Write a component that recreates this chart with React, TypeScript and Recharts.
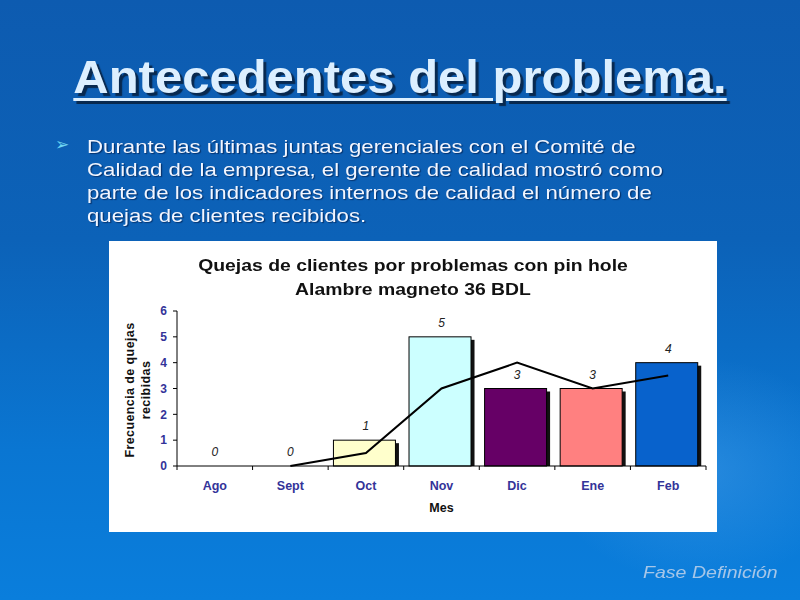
import React from "react";
import { ComposedChart, Bar, Line, XAxis, YAxis, Cell, LabelList } from "recharts";

const months = ["Ago", "Sept", "Oct", "Nov", "Dic", "Ene", "Feb"];
const quejas = [0, 0, 1, 5, 3, 3, 4];
const promedioMovil: (number | null)[] = [null, 0, 0.5, 3, 4, 3, 3.5];
const barColors = ["#FFFFCC", "#FFFFCC", "#FFFFCC", "#CCFFFF", "#660066", "#FF8080", "#0862CC"];
const yTicks = [0, 1, 2, 3, 4, 5, 6];

const chartTitle1 = "Quejas de clientes por problemas con pin hole";
const chartTitle2 = "Alambre magneto 36 BDL";
const slideTitle = "Antecedentes del problema.";
const bulletLines = [
  "Durante las últimas juntas gerenciales con el Comité de",
  "Calidad de la empresa, el gerente de calidad mostró como",
  "parte de los indicadores internos de calidad el número de",
  "quejas de clientes recibidos.",
];

const data = months.map((m, i) => ({ mes: m, quejas: quejas[i], promedio: promedioMovil[i] }));

const W = 608;
const H = 291;
const PLOT_LEFT = 68;
const PLOT_RIGHT = 597;
const PLOT_TOP = 70;
const PLOT_BOTTOM = 225;
const Y_AXIS_W = 40;
const X_AXIS_H = 40;
const BAND = (PLOT_RIGHT - PLOT_LEFT) / months.length;
const FONT = "Liberation Sans, Arial, sans-serif";

const ShadowBar = (props: any) => {
  const { x, y, width, height, fill } = props;
  if (!height || height <= 0) return null;
  const bx = x - 1.5;
  return (
    <g>
      <rect x={bx + 3.5} y={y + 3} width={width} height={height - 3} fill="#111" />
      <rect x={bx} y={y} width={width} height={height} fill={fill} stroke="#000" strokeWidth={1} />
    </g>
  );
};

const XTick = (props: any) => {
  const { x, payload, index } = props;
  const left = x - BAND / 2;
  const right = x + BAND / 2;
  return (
    <g>
      <line x1={left} x2={left} y1={PLOT_BOTTOM} y2={PLOT_BOTTOM + 4} stroke="#000" />
      {index === months.length - 1 && (
        <line x1={right} x2={right} y1={PLOT_BOTTOM} y2={PLOT_BOTTOM + 4} stroke="#000" />
      )}
      <text
        x={x}
        y={PLOT_BOTTOM + 24}
        textAnchor="middle"
        fontFamily={FONT}
        fontWeight="bold"
        fontSize={12.5}
        fill="#333399"
      >
        {payload.value}
      </text>
    </g>
  );
};

export default function App() {
  return (
    <div
      style={{
        position: "absolute",
        left: 0,
        top: 0,
        width: 800,
        height: 600,
        overflow: "hidden",
        background:
          "radial-gradient(ellipse 220px 160px at 700px 470px, rgba(90,170,240,0.35), rgba(90,170,240,0) 70%), linear-gradient(180deg, #0d5bb0 0%, #0c62b8 40%, #0a76d2 75%, #0a7edc 100%)",
        fontFamily: FONT,
      }}
    >
      <div
        style={{
          position: "absolute",
          left: 0,
          width: 800,
          top: 54,
          textAlign: "center",
          fontSize: 46,
          lineHeight: "46px",
          fontWeight: "bold",
          color: "#dcefff",
          textDecoration: "underline",
          textDecorationThickness: 3,
          textUnderlineOffset: 5,
          textShadow: "3px 3px 1px #08294f",
          transform: "scaleX(1.065)",
          transformOrigin: "400px 0",
        }}
      >
        {slideTitle}
      </div>

      <div
        style={{
          position: "absolute",
          left: 55,
          top: 134,
          fontSize: 17,
          color: "#6fd6f2",
          fontFamily: "DejaVu Sans, sans-serif",
        }}
      >
        ➢
      </div>
      <div
        style={{
          position: "absolute",
          left: 87,
          top: 135,
          fontSize: 19,
          lineHeight: "23px",
          color: "#f2f6ff",
          textShadow: "1px 1px 1px rgba(0,20,60,0.6)",
          whiteSpace: "nowrap",
          transform: "scaleX(1.17)",
          transformOrigin: "0 0",
        }}
      >
        {bulletLines.map((l, i) => (
          <div key={i}>{l}</div>
        ))}
      </div>

      <div
        style={{
          position: "absolute",
          left: 109,
          top: 241,
          width: W,
          height: H,
          background: "#ffffff",
        }}
      >
        <div
          style={{
            position: "absolute",
            left: 0,
            width: W,
            top: 13,
            textAlign: "center",
            fontSize: 17,
            lineHeight: "24px",
            fontWeight: "bold",
            color: "#111",
            transform: "scaleX(1.14)",
            transformOrigin: `${W / 2}px 0`,
          }}
        >
          <div>{chartTitle1}</div>
          <div>{chartTitle2}</div>
        </div>

        <div
          style={{
            position: "absolute",
            left: 29 - 80,
            top: 149 - 16,
            width: 160,
            height: 32,
            transform: "rotate(-90deg)",
            textAlign: "center",
            fontSize: 12.5,
            lineHeight: "16px",
            fontWeight: "bold",
            color: "#111",
            letterSpacing: 0.4,
          }}
        >
          <div>Frecuencia de quejas</div>
          <div>recibidas</div>
        </div>

        <div
          style={{
            position: "absolute",
            left: PLOT_LEFT,
            width: PLOT_RIGHT - PLOT_LEFT,
            top: 259,
            textAlign: "center",
            fontSize: 12.5,
            lineHeight: "16px",
            fontWeight: "bold",
            color: "#111",
          }}
        >
          Mes
        </div>

        <div style={{ position: "absolute", left: 0, top: 0 }}>
          <ComposedChart
            width={W}
            height={H}
            data={data}
            margin={{
              top: PLOT_TOP,
              right: W - PLOT_RIGHT,
              bottom: H - PLOT_BOTTOM - X_AXIS_H,
              left: PLOT_LEFT - Y_AXIS_W,
            }}
            barCategoryGap="9%"
          >
            <XAxis
              dataKey="mes"
              height={X_AXIS_H}
              tickLine={false}
              axisLine={{ stroke: "#000" }}
              tick={<XTick />}
              interval={0}
            />
            <YAxis
              width={Y_AXIS_W}
              domain={[0, 6]}
              ticks={yTicks}
              interval={0}
              tickSize={4}
              tickMargin={6}
              axisLine={{ stroke: "#000" }}
              tickLine={{ stroke: "#000" }}
              tick={{ fill: "#333399", fontSize: 12, fontWeight: "bold", fontFamily: FONT }}
            />
            <Bar dataKey="quejas" shape={<ShadowBar />} isAnimationActive={false}>
              {data.map((d, i) => (
                <Cell key={i} fill={barColors[i]} />
              ))}
              <LabelList
                dataKey="quejas"
                position="top"
                offset={10}
                fill="#222"
                fontSize={12}
                fontStyle="italic"
                fontFamily={FONT}
              />
            </Bar>
            <Line
              dataKey="promedio"
              type="linear"
              stroke="#000"
              strokeWidth={2}
              dot={false}
              activeDot={false}
              isAnimationActive={false}
              connectNulls={false}
            />
          </ComposedChart>
        </div>
      </div>

      <div
        style={{
          position: "absolute",
          left: 643,
          top: 563,
          fontSize: 17,
          fontStyle: "italic",
          color: "#a6c6e8",
          whiteSpace: "nowrap",
          transform: "scaleX(1.15)",
          transformOrigin: "0 0",
        }}
      >
        Fase Definición
      </div>
    </div>
  );
}
